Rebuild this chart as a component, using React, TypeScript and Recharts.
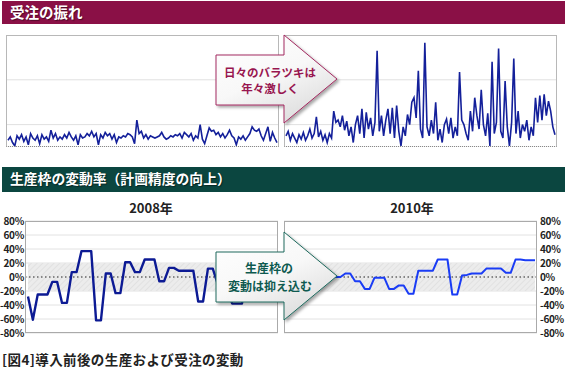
import { LineChart, Line, XAxis, YAxis, CartesianGrid, ReferenceArea, ReferenceLine } from "recharts";

// 受注（日次）: 左 = 導入前, 右 = 導入後
const ordersBefore = [
  6, 9, 4, 1, 10, 7, 11, 5, 9, 2, 12, 8, 6, 10, 3, 11, 7, 9, 5, 15,
  8, 12, 6, 9, 7, 11, 8, 13, 9, 6, 10, 2, 11, 8, 9, 12, 10, 14, 9, 12,
  2, 11, 8, 13, 10, 12, 7, 11, 4, 9, 8, 10, 9, 12, 11, 9, 3, 24, 12, 14,
  8, 11, 7, 10, 9, 8, 9, 10, 13, 9, 7, 8, 10, 9, 11, 10, 12, 8, 13, 11,
  9, 12, 6, 10, 8, 20, 7, 3, 10, 17, 14, 15, 11, 13, 9, 12, 8, 11, 15, 10,
  8, 2, 9, 7, 10, 6, 9, 12, 18, 15, 14, 16, 10, 6, 12, 18, 5, 13, 8, 4,
];
const ordersAfter = [
  10, 14, 6, 12, 8, 4, 11, 7, 13, 6, 10, 16, 8, 12, 27, 9, 14, 6, 11, 4,
  12, 8, 32, 22, 24, 18, 28, 15, 23, 10, 18, 4, 20, 28, 12, 34, 8, 31, 16, 26,
  10, 22, 86, 14, 28, 10, 24, 34, 12, 35, 8, 37, 14, 1, 18, 10, 29, 20, 40, 44,
  26, 68, 16, 8, 93, 18, 10, 24, 12, 40, 6, 16, 4, 20, 25, 12, 26, 8, 18, 10,
  67, 24, 20, 12, 6, 32, 14, 44, 28, 16, 51, 20, 10, 30, 1, 76, 12, 22, 88, 14,
  8, 59, 18, 1, 22, 79, 12, 32, 8, 20, 14, 24, 6, 18, 10, 44, 22, 46, 24, 47,
  28, 41, 32, 18, 11,
];
const orderTicks = [0, 20, 40, 60, 80, 100];

// 生産枠の変動率（週次, %）
const rate2008 = [
  -28, -61, -25, -25, -25, -7, -7, -37, -37, 7, 7, 37, 37, 37, -62, -62, 5, 5, -23, -23,
  21, 21, 7, 7, 25, 25, 25, -6, -6, 13, 13, 9, 9, 9, 9, -35, -35, 12, 12, -10,
  -20, -20, -38, -38, -38, 10, 10, -15, -15, 15, 15, 15,
];
const rate2010 = [
  5, 5, -8, -8, 10, 10, 2, 2, 0, 0, 0, 0, 5, 5, -6, -6, -17, -17, -1, -1,
  -1, -17, -17, -12, -12, -24, -24, 9, 9, 9, 9, 25, 25, 25, -25, -25, 2, 3, 5, 5,
  5, 12, 12, 12, 12, 6, 6, 25, 25, 24, 24, 24,
];
const rateTicks = [-80, -60, -40, -20, 0, 20, 40, 60, 80];

const JP = "'Noto Sans CJK JP', 'Noto Sans', sans-serif";

function OrdersPanel({ values, left }: { values: number[]; left: number }) {
  const data = values.map((v, i) => ({ day: i + 1, v }));
  return (
    <div style={{ position: "absolute", left, top: 35, width: 273, height: 112 }}>
      <LineChart width={273} height={112} data={data} margin={{ top: 0, right: 0, bottom: 0, left: 0 }}>
        <CartesianGrid vertical={false} stroke="#e0e0e0" />
        <XAxis dataKey="day" hide padding={{ left: 2, right: 2 }} />
        <YAxis hide domain={[0, 100]} ticks={orderTicks} />
        <Line dataKey="v" stroke="#14209a" strokeWidth={1.6} dot={false} isAnimationActive={false} />
      </LineChart>
      <div
        style={{
          position: "absolute", left: 0, top: 0, width: 273, height: 112, boxSizing: "border-box",
          border: "1px solid #b8b8b8", borderBottom: "1px dotted #888", pointerEvents: "none",
        }}
      />
    </div>
  );
}

function RatePanel({ values, id, side, color, width }: { values: number[]; id: string; side: "left" | "right"; color: string; width: number }) {
  const data = values.map((v, i) => ({ week: i + 1, v }));
  const isLeft = side === "left";
  const chartLeft = isLeft ? 0 : 284;
  const axisW = isLeft ? 25 : 28;
  const chartW = 253 + axisW;
  return (
    <div style={{ position: "absolute", left: chartLeft, top: 209, width: chartW, height: 136 }}>
      <LineChart width={chartW} height={136} data={data} margin={{ top: 12, right: 0, bottom: 12, left: 0 }}>
        <defs>
          <pattern id={id} width="4" height="4" patternUnits="userSpaceOnUse" patternTransform="rotate(45)">
            <rect width="4" height="4" fill="#ececec" />
            <line x1="0" y1="0" x2="0" y2="4" stroke="#dedede" strokeWidth="1.5" />
          </pattern>
        </defs>
        <CartesianGrid vertical={false} stroke="#e2e2e2" />
        <XAxis dataKey="week" hide padding={{ left: 3, right: 2 }} />
        <YAxis
          orientation={side}
          width={axisW}
          domain={[-80, 80]}
          ticks={rateTicks}
          tickFormatter={(t: number) => `${t}%`}
          axisLine={false}
          tickLine={false}
          tickSize={0}
          tickMargin={isLeft ? 1 : 3}
          interval={0}
          tick={{ fontSize: 10, fontWeight: 700, fill: "#222", fontFamily: JP, letterSpacing: -0.3 }}
        />
        <ReferenceArea y1={-20} y2={20} fill={`url(#${id})`} fillOpacity={1} stroke="none" />
        <ReferenceLine y={0} stroke="#666" strokeWidth={1.5} strokeDasharray="1.5 2.5" />
        <Line dataKey="v" stroke={color} strokeWidth={width} dot={false} isAnimationActive={false} strokeLinejoin="round" />
      </LineChart>
      <div
        style={{
          position: "absolute", left: isLeft ? axisW : 0, top: 12, width: 253, height: 112, boxSizing: "border-box",
          border: "1px solid #aaa", pointerEvents: "none",
        }}
      />
    </div>
  );
}

function arrowPoints(top: number) {
  return [
    [216, top + 20], [284, top + 20], [284, top], [337, top + 44],
    [284, top + 88], [284, top + 70], [216, top + 70],
  ].map((p) => p.join(",")).join(" ");
}

function Callouts() {
  return (
    <svg width={565} height={370} style={{ position: "absolute", left: 0, top: 0, pointerEvents: "none" }}>
      <defs>
        <linearGradient id="arrowFill" x1="0" y1="0" x2="0.6" y2="1">
          <stop offset="0%" stopColor="#ffffff" />
          <stop offset="55%" stopColor="#f8f8f8" />
          <stop offset="100%" stopColor="#dedede" />
        </linearGradient>
        <filter id="shadow" x="-10%" y="-10%" width="130%" height="130%">
          <feDropShadow dx="2" dy="2" stdDeviation="1.5" floodColor="#000" floodOpacity="0.35" />
        </filter>
      </defs>
      <polygon points={arrowPoints(35)} fill="url(#arrowFill)" stroke="#a32a60" strokeWidth={1} filter="url(#shadow)" />
      <g fontFamily={JP} fontWeight={700} fontSize={11.5} fill="#981650" textAnchor="middle">
        <text x={270} y={71.5} dominantBaseline="central">日々のバラツキは</text>
        <text x={270} y={88} dominantBaseline="central">年々激しく</text>
      </g>
      <polygon points={arrowPoints(232)} fill="url(#arrowFill)" stroke="#1f6a5e" strokeWidth={1} filter="url(#shadow)" />
      <g fontFamily={JP} fontWeight={700} fontSize={12} fill="#0e5a50" textAnchor="middle">
        <text x={269} y={267.5} dominantBaseline="central">生産枠の</text>
        <text x={270} y={285} dominantBaseline="central">変動は抑え込む</text>
      </g>
    </svg>
  );
}

const headerText = {
  position: "absolute" as const,
  left: 10,
  color: "#fff",
  fontFamily: JP,
  fontWeight: 700,
  textShadow: "1px 1px 1px rgba(0,0,0,0.45)",
  lineHeight: 1,
};

export default function App() {
  return (
    <div style={{ position: "absolute", left: 0, top: 0, width: 565, height: 370, background: "#fff", overflow: "hidden", fontFamily: JP }}>
      <div style={{ position: "absolute", left: 2, top: 1, width: 563, height: 23, background: "#8a1046" }} />
      <div style={{ ...headerText, top: 5, fontSize: 14.5 }}>受注の振れ</div>

      <OrdersPanel values={ordersBefore} left={6} />
      <OrdersPanel values={ordersAfter} left={284} />

      <div style={{ position: "absolute", left: 2, top: 167, width: 563, height: 25, background: "#0b4640" }} />
      <div style={{ ...headerText, top: 172, fontSize: 13.8 }}>生産枠の変動率（計画精度の向上）</div>

      <div style={{ position: "absolute", left: 101, width: 100, top: 200, textAlign: "center", fontSize: 13, fontWeight: 700, color: "#222", lineHeight: "16px" }}>2008年</div>
      <div style={{ position: "absolute", left: 362, width: 100, top: 200, textAlign: "center", fontSize: 13, fontWeight: 700, color: "#222", lineHeight: "16px" }}>2010年</div>

      <RatePanel values={rate2008} id="hatch2008" side="left" color="#0c1a94" width={2.4} />
      <RatePanel values={rate2010} id="hatch2010" side="right" color="#1a3cf5" width={2} />

      <Callouts />

      <div style={{ position: "absolute", left: 2, top: 351, fontSize: 13.5, fontWeight: 700, color: "#222", lineHeight: "16px", whiteSpace: "nowrap", letterSpacing: 0.4 }}>
        [図4]導入前後の生産および受注の変動
      </div>
    </div>
  );
}
